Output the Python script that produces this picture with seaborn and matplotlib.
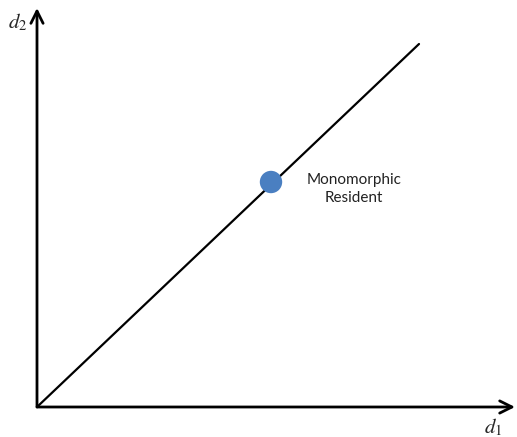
import matplotlib
matplotlib.use("Agg")
import matplotlib.pyplot as plt
import seaborn as sns
import pandas as pd

# ==================== data ====================
line_x = [0, 382]
line_y = [0, 363]
point_x = [234]
point_y = [225]
point_label = "Monomorphic\nResident"

sns.set_style("white")
plt.rcParams["font.family"] = ["Lato", "DejaVu Sans"]
plt.rcParams["mathtext.fontset"] = "stix"

fig = plt.figure(figsize=(5.17, 4.37), dpi=100)
ax = fig.add_axes([37 / 517, 30 / 437, 478 / 517, 399 / 437])
ax.set_xlim(0, 478)
ax.set_ylim(0, 399)

line_df = pd.DataFrame({"x": line_x, "y": line_y})
sns.lineplot(data=line_df, x="x", y="y", color="black", linewidth=1.6, ax=ax)

pt_df = pd.DataFrame({"x": point_x, "y": point_y})
sns.scatterplot(data=pt_df, x="x", y="y", s=260, color="#4a7fc1", edgecolor="none", ax=ax, zorder=3)
ax.text(point_x[0] + 83, point_y[0] - 7, point_label, ha="center", va="center",
        fontsize=11, color="#222222", linespacing=1.45)

# axes with arrows
for s in ax.spines.values():
    s.set_visible(False)
ax.set_xticks([])
ax.set_yticks([])
ax.set_xlabel("")
ax.set_ylabel("")
arrow = dict(arrowstyle="->", lw=2, color="black", mutation_scale=22, shrinkA=0, shrinkB=0)
ax.annotate("", xy=(1, 0), xytext=(0, 0), xycoords="axes fraction", arrowprops=arrow)
ax.annotate("", xy=(0, 1), xytext=(0, 0), xycoords="axes fraction", arrowprops=arrow)

ax.text(-0.04, 0.965, "$d_2$", transform=ax.transAxes, fontsize=15, ha="center", va="center",
        clip_on=False)
ax.text(0.955, -0.05, "$d_1$", transform=ax.transAxes, fontsize=15, ha="center", va="center",
        clip_on=False)

fig.savefig("out.png", dpi=100)
